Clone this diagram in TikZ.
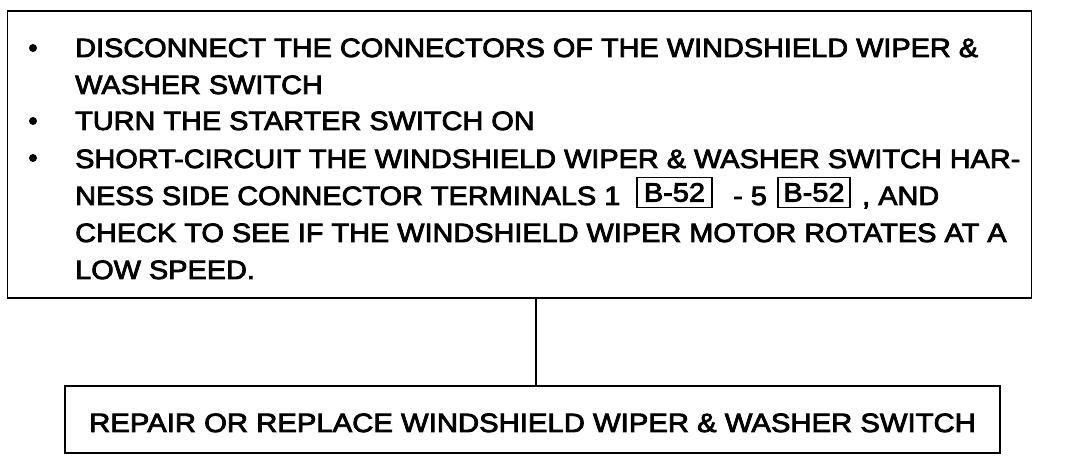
\documentclass[tikz,border=0pt]{standalone}
\usepackage{fontspec}
\setmainfont{Liberation Sans}[FakeStretch=1.09,FakeBold=3]
\newfontfamily\widefont{Liberation Sans}[FakeStretch=1.105,FakeBold=3]
\begin{document}
\begin{tikzpicture}[x=1pt,y=-1pt,
  box/.style={draw,line width=1.6pt,inner sep=0pt},
  refbox/.style={draw,line width=1.6pt,inner sep=0pt,minimum height=30pt,font=\fontsize{26.5}{30}\selectfont},
  txt/.style={anchor=base west,inner sep=0pt,font=\fontsize{26.5}{30}\selectfont},
  dotmark/.style={circle,fill,inner sep=0pt,minimum size=8pt},
  conn/.style={line width=1.6pt}]
\useasboundingbox (0,0) rectangle (1072,462);
\node[box,minimum width=1024pt,minimum height=287pt] (top) at (519.5,154.5) {};
\node[box,minimum width=935pt,minimum height=67pt] (bot) at (532.5,419.5) {};
\node[dotmark] (b1) at (33,48) {};
\node[dotmark] (b3) at (33,121) {};
\node[dotmark] (b4) at (33,158) {};
\node[txt] (l1) at (75,57) {DISCONNECT THE CONNECTORS OF THE WINDSHIELD WIPER \&};
\node[txt] (l2) at (75,94) {WASHER SWITCH};
\node[txt] (l3) at (75,130) {TURN THE STARTER SWITCH ON};
\node[txt] (l4) at (75,168) {SHORT-CIRCUIT THE WINDSHIELD WIPER \& WASHER SWITCH HAR-};
\node[txt] (l5a) at (75,205) {NESS SIDE CONNECTOR TERMINALS 1};
\node[refbox,minimum width=75pt] (k1) at (674.5,192.5) {B-52};
\node[txt] (l5b) at (733,205) {- 5};
\node[refbox,minimum width=72pt] (k2) at (814,192.5) {B-52};
\node[txt] (l5c) at (862,205) {, AND};
\node[txt] (l6) at (75,242) {CHECK TO SEE IF THE WINDSHIELD WIPER MOTOR ROTATES AT A};
\node[txt] (l7) at (75,279) {LOW SPEED.};
\node[txt,font=\widefont\fontsize{26.5}{30}\selectfont] (m1) at (89,432) {REPAIR OR REPLACE WINDSHIELD WIPER \& WASHER SWITCH};
\coordinate (j) at (536,298);
\draw[conn] (j) -- (j |- bot.north);
\end{tikzpicture}
\end{document}
